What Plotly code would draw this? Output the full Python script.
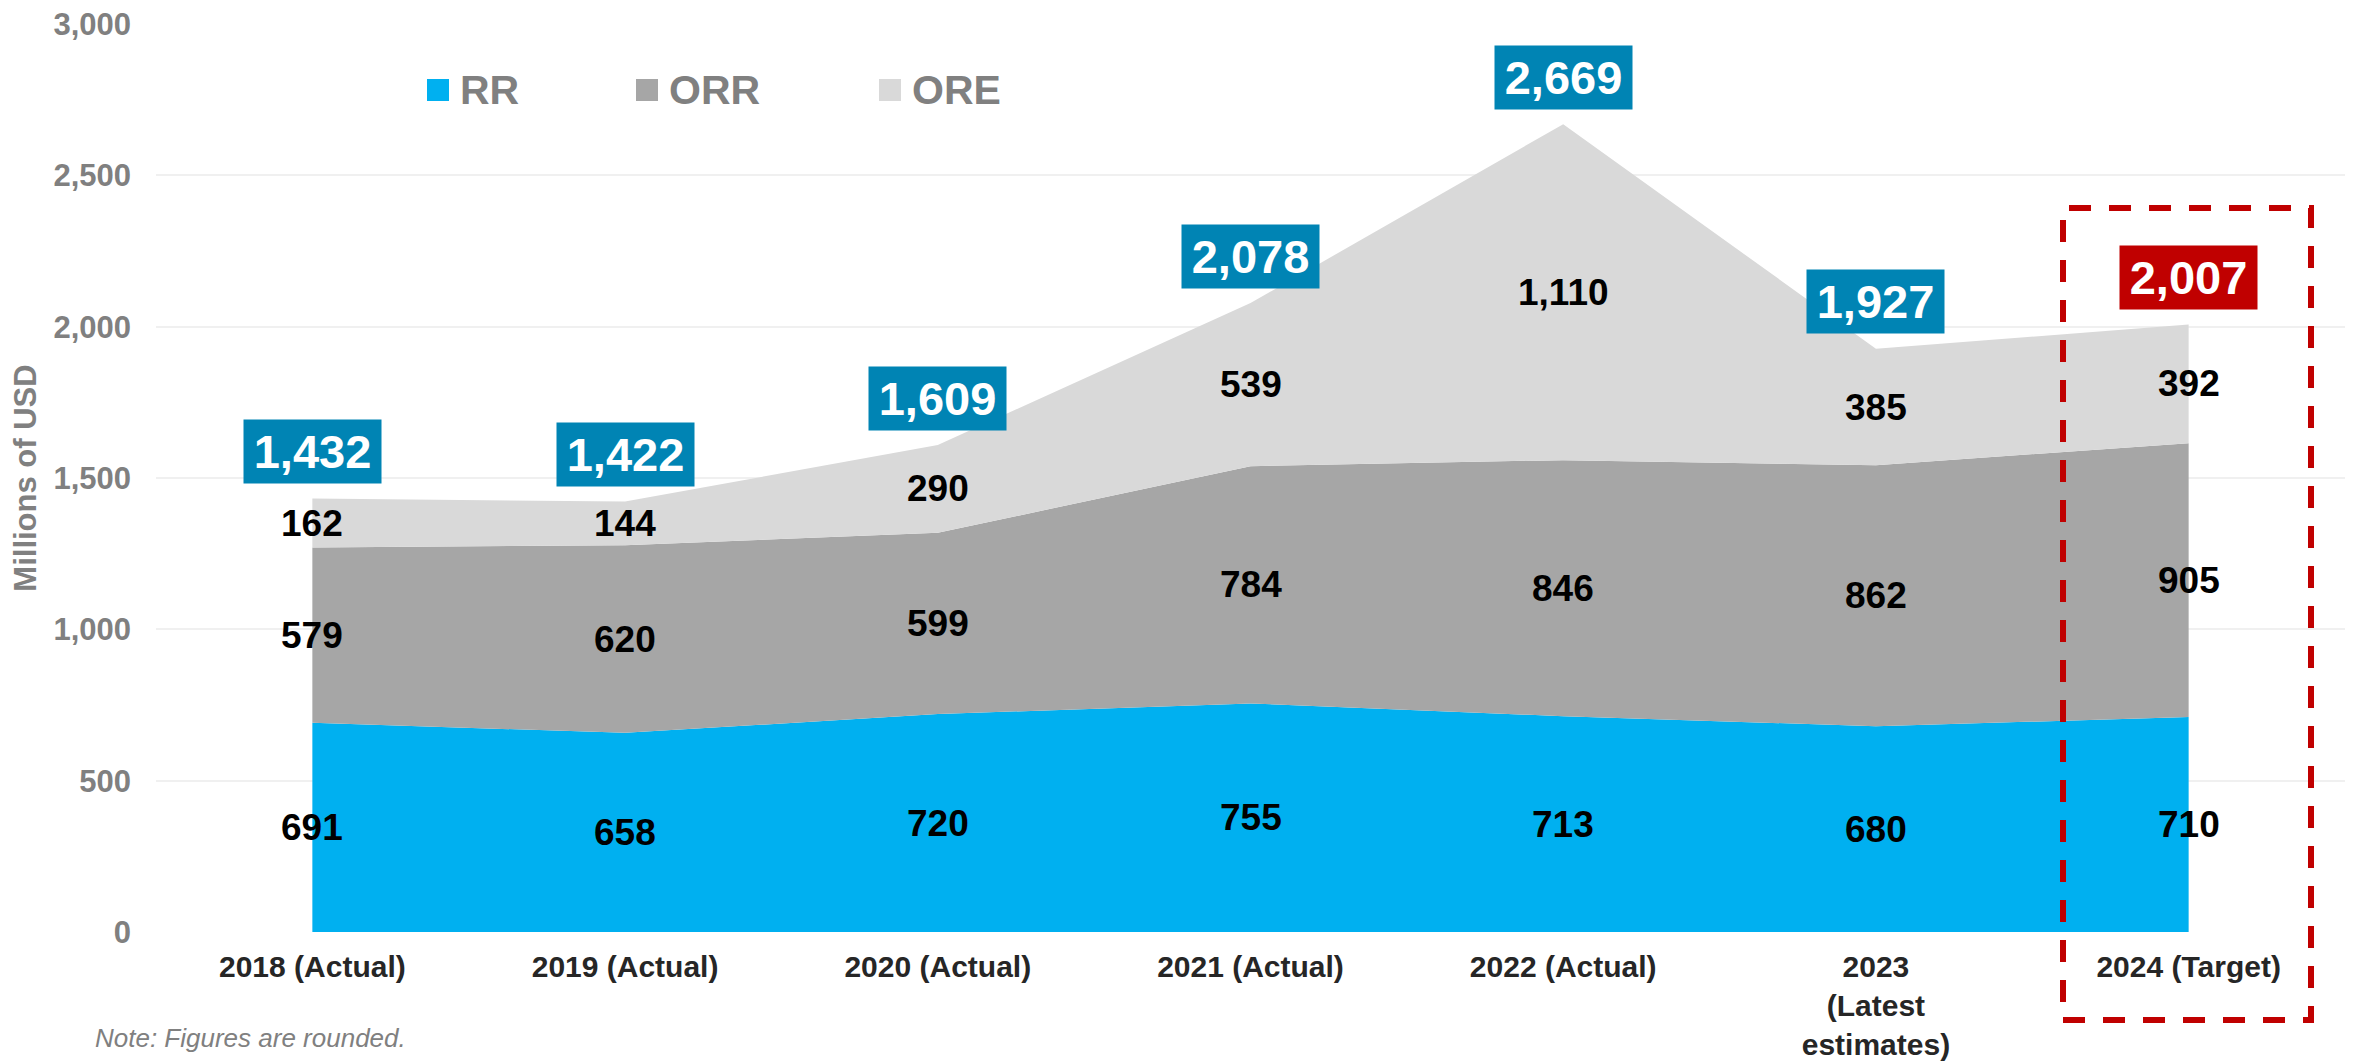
import plotly.graph_objects as go

# ---------------- data ----------------
categories = ["2018 (Actual)", "2019 (Actual)", "2020 (Actual)", "2021 (Actual)",
              "2022 (Actual)", "2023<br>(Latest<br>estimates)", "2024 (Target)"]
rr = [691, 658, 720, 755, 713, 680, 710]
orr = [579, 620, 599, 784, 846, 862, 905]
ore = [162, 144, 290, 539, 1110, 385, 392]
totals = [1432, 1422, 1609, 2078, 2669, 1927, 2007]
series_names = ["RR", "ORR", "ORE"]
y_ticks = [0, 500, 1000, 1500, 2000, 2500, 3000]

# ---------------- style ----------------
OFF = 8  # page body margin
W, H = 2345, 1053
L, R, T, B = 148, 8, 16, 129
FONT = "Liberation Sans, Arial, sans-serif"
colors = ["#00B0F0", "#A6A6A6", "#D9D9D9"]
BLUE_BOX = "#0084B4"
RED_BOX = "#C00000"
GREY = "#808080"

pw = W - L - R
ph = H - T - B


def px_x(p):
    return (p - OFF - L) / pw


def px_y(p):
    return (H - B - (p - OFF)) / ph


x_idx = list(range(len(categories)))

fig = go.Figure()
for name, vals, col in zip(series_names, [rr, orr, ore], colors):
    fig.add_trace(go.Scatter(
        x=x_idx, y=vals, name=name, stackgroup="one", mode="lines",
        line=dict(width=0, color=col), fillcolor=col, showlegend=False,
        hoverinfo="skip"))

annotations = []
# segment labels at segment midpoints
for i in x_idx:
    base = 0
    for vals in [rr, orr, ore]:
        v = vals[i]
        annotations.append(dict(
            x=i, y=base + v / 2, xref="x", yref="y", text=f"{v:,}",
            showarrow=False, font=dict(family=FONT, size=37, color="#000000", weight="bold")))
        base += v

# total boxes
for i, t in zip(x_idx, totals):
    annotations.append(dict(
        x=i, y=t, xref="x", yref="y", yshift=47, text=f"{t:,}", showarrow=False,
        bgcolor=RED_BOX if i == len(x_idx) - 1 else BLUE_BOX,
        width=137, height=63, borderpad=0,
        font=dict(family=FONT, size=47, color="#FFFFFF", weight="bold")))

# legend (custom squares + text)
shapes = []
legend_items = [(427, "RR"), (636, "ORR"), (879, "ORE")]
for (mx, name), col in zip(legend_items, colors):
    shapes.append(dict(type="rect", xref="paper", yref="paper",
                       x0=px_x(mx), x1=px_x(mx + 22), y0=px_y(101), y1=px_y(79),
                       fillcolor=col, line=dict(width=0), layer="above"))
    annotations.append(dict(x=px_x(mx + 31), y=px_y(90), xref="paper", yref="paper",
                            xanchor="left", yanchor="middle", text=name, showarrow=False,
                            font=dict(family=FONT, size=41, color=GREY, weight="bold")))

# dashed highlight box
shapes.append(dict(type="rect", xref="paper", yref="paper",
                   x0=px_x(2063), x1=px_x(2311), y0=px_y(1020), y1=px_y(208),
                   line=dict(color=RED_BOX, width=6, dash="22px,18px"),
                   fillcolor="rgba(0,0,0,0)", layer="above"))

# note
annotations.append(dict(x=px_x(93), y=px_y(1038), xref="paper", yref="paper",
                        xanchor="left", yanchor="middle", showarrow=False,
                        text="Note: Figures are rounded.",
                        font=dict(family=FONT, size=26, color=GREY, style="italic")))

fig.update_layout(
    width=W, height=H,
    margin=dict(l=L, r=R, t=T, b=B, autoexpand=False),
    paper_bgcolor="#FFFFFF", plot_bgcolor="#FFFFFF",
    showlegend=False,
    annotations=annotations, shapes=shapes,
    xaxis=dict(tickmode="array", tickvals=x_idx, ticktext=categories,
               range=[-0.5, len(categories) - 0.5], showgrid=False, zeroline=False,
               showline=False, ticks="", ticklabelstandoff=14,
               tickfont=dict(family=FONT, size=30, color="#262626", weight="bold")),
    yaxis=dict(range=[0, 3000], tickvals=y_ticks, tickformat=",",
               showgrid=True, gridcolor="#F0F0F0", gridwidth=2, zeroline=False,
               showline=False, ticks="", ticklabelstandoff=24,
               ticklabeloverflow="allow",
               tickfont=dict(family=FONT, size=31, color=GREY, weight="bold"),
               title=dict(text="Millions of USD", standoff=12,
                          font=dict(family=FONT, size=31, color=GREY, weight="bold"))),
)

fig.write_html("out.html")
